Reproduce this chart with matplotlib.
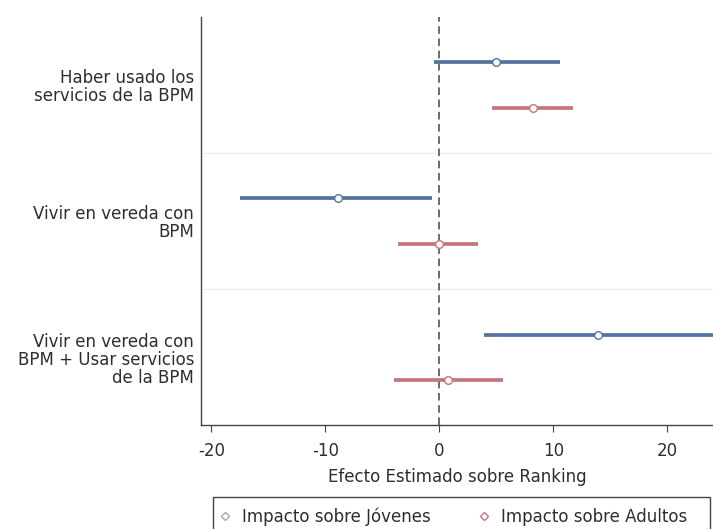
import matplotlib
matplotlib.use("Agg")
import matplotlib.pyplot as plt
from matplotlib.lines import Line2D
from matplotlib.patches import Rectangle

plt.rcParams['font.family'] = ['DejaVu Sans']

categories = ["Haber usado los\nservicios de la BPM",
              "Vivir en vereda con\nBPM",
              "Vivir en vereda con\nBPM + Usar servicios\nde la BPM"]
series = ["Impacto sobre Jóvenes", "Impacto sobre Adultos"]
jov_est = [5.0, -8.9, 13.9]
jov_lo = [-0.5, -17.5, 3.9]
jov_hi = [10.6, -0.6, 24.8]
adu_est = [8.2, 0.0, 0.8]
adu_lo = [4.6, -3.6, -4.0]
adu_hi = [11.7, 3.4, 5.6]
xticks = [-20, -10, 0, 10, 20]

blue = "#55739f"
red = "#c4767c"
txt = "#2e2e2e"
FS = 12

W, H = 713, 529
fig = plt.figure(figsize=(W/100, H/100), dpi=100)
ax = fig.add_axes([201/W, 1-425/H, 512/W, (425-17)/H])

for i in range(len(categories)):
    yj = 3*i
    ya = 3*i + 1
    ax.plot([jov_lo[i], jov_hi[i]], [yj, yj], color=blue, lw=2.7, solid_capstyle='butt', zorder=3)
    ax.plot([jov_est[i]], [yj], marker='o', ms=5.5, mfc='white', mec=blue, mew=1.0, zorder=4)
    ax.plot([adu_lo[i], adu_hi[i]], [ya, ya], color=red, lw=2.7, solid_capstyle='butt', zorder=3)
    ax.plot([adu_est[i]], [ya], marker='o', ms=5.5, mfc='white', mec=red, mew=1.0, zorder=4)

for s in [2, 5]:
    ax.axhline(s, color="#eeeeee", lw=0.8, zorder=1)

ax.axvline(0, color="#444444", lw=1.1, ls=(0, (5, 3)), zorder=2)

ax.set_xlim(-20.9, 24.0)
ax.set_ylim(7.98, -0.99)
ax.set_xticks(xticks)
ax.set_xticklabels([str(t) for t in xticks], fontsize=FS, color=txt)
ax.set_yticks([0.5, 3.5, 6.5])
ax.set_yticklabels(categories, fontsize=FS, color=txt, ha='right', linespacing=1.0)
ax.tick_params(axis='y', length=0, pad=5)
ax.tick_params(axis='x', length=5, width=0.8, color="#444444", pad=7)
ax.spines['top'].set_visible(False)
ax.spines['right'].set_visible(False)
for sp in ['left', 'bottom']:
    ax.spines[sp].set_color("#444444")
    ax.spines[sp].set_linewidth(1.0)
ax.set_xlabel("Efecto Estimado sobre Ranking", fontsize=FS, color=txt, labelpad=6)

# legend frame
fig.patches.append(Rectangle((213/W, -10/H), (710-213)/W, (10+529-497)/H,
                             transform=fig.transFigure, fill=False,
                             edgecolor="#444444", lw=1.0))
h1 = Line2D([], [], ls='none', marker='D', ms=4.5, mfc='white', mec="#aaaaaa", mew=1.0)
h2 = Line2D([], [], ls='none', marker='D', ms=4.5, mfc='white', mec=red, mew=1.0)
fig.legend([h1], [series[0]], loc='center left', bbox_to_anchor=(217/W, 1-517/H),
           fontsize=FS, frameon=False, handlelength=1.0, handletextpad=0.5,
           borderpad=0, borderaxespad=0, labelcolor=txt)
fig.legend([h2], [series[1]], loc='center left', bbox_to_anchor=(476/W, 1-517/H),
           fontsize=FS, frameon=False, handlelength=1.0, handletextpad=0.5,
           borderpad=0, borderaxespad=0, labelcolor=txt)

fig.savefig("out.png", dpi=100)
